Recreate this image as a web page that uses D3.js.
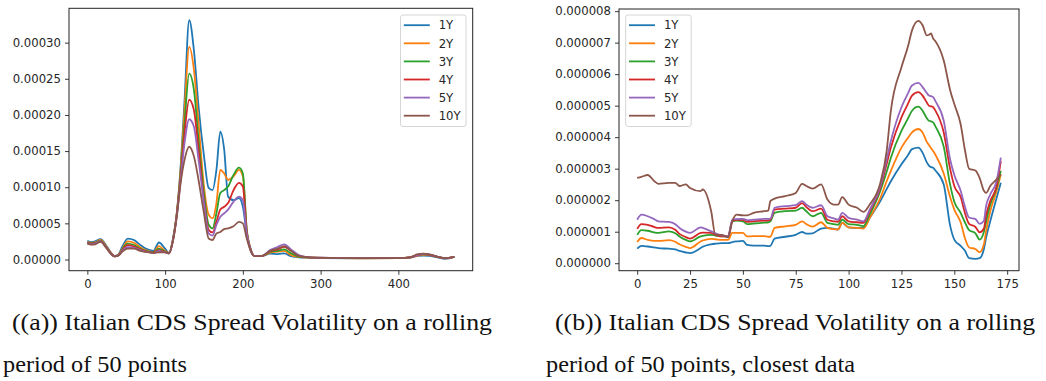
<!DOCTYPE html>
<html lang="en">
<head>
    <meta charset="UTF-8">
    <title>Italian CDS Spread Volatility</title>
    <style>
        body{
            margin:0;
            background:#fff;
        }
        .tick text{
            font-family:"DejaVu Sans", sans-serif;
            font-size:11.7px;
            fill:#262626;
        }
        .legend text{
            font-family:"DejaVu Sans", sans-serif;
            font-size:11.7px;
            fill:#262626;
        }
        .caption{
            font-family:"Liberation Serif", serif;
            font-size:23px;
            fill:#111;
        }
    </style>
    <script src="https://d3js.org/d3.v7.min.js"></script>
</head>
<body>
    <div class="canvas"></div>
    <script>
    // ---- data ----
    const seriesNames = ['1Y','2Y','3Y','4Y','5Y','10Y'];
    const colors = ['#1f77b4','#ff7f0e','#2ca02c','#d62728','#9467bd','#8c564b'];

    // (a) full history, values in units of 1e-5
    const xA = [0,5,10,17,25,30,35,40,45,52,60,68,75,85,92,100,105,110,115,120,125,131,137,143,150,156,161,166,171,176,181,188,195,200,205,210,215,225,235,245,253,262,272,285,300,350,400,415,425,432,440,450,460,472];
    const a1Y  = [2.6,2.4,2.5,2.8,1.8,1.0,0.5,0.7,1.8,2.9,2.7,2.0,1.5,1.2,2.35,1.5,0.9,2.8,6.4,12.9,22,33.1,29,21.2,14.3,9.9,9.6,12.4,17.7,15.2,8.7,8.2,8.5,7.3,3.6,1.3,0.46,0.5,0.8,0.75,0.85,0.46,0.3,0.25,0.2,0.15,0.18,0.25,0.5,0.55,0.5,0.3,0.1,0.37];
    const a2Y  = [2.4,2.3,2.35,2.7,1.7,0.95,0.46,0.65,1.5,2.5,2.3,1.7,1.3,1.0,1.85,1.2,0.85,2.7,6.4,12.5,20.7,29.4,26.3,18.9,10.1,6.2,5.7,7.8,12.4,11.9,11.0,11.5,12.4,11.5,4.0,1.4,0.46,0.5,0.95,1.1,1.2,0.6,0.35,0.25,0.22,0.17,0.18,0.28,0.55,0.65,0.6,0.35,0.15,0.37];
    const a3Y  = [2.35,2.25,2.3,2.6,1.65,0.9,0.45,0.6,1.4,2.2,2.0,1.5,1.2,1.0,1.5,1.1,0.85,2.7,6.3,12.0,18.9,25.7,23.5,16.6,9.2,4.8,4.3,6.4,9.2,9.6,10.1,11.7,12.7,11.9,4.2,1.5,0.46,0.5,1.05,1.2,1.4,0.85,0.4,0.28,0.23,0.18,0.18,0.28,0.6,0.7,0.65,0.37,0.18,0.37];
    const a4Y  = [2.3,2.2,2.25,2.55,1.6,0.9,0.44,0.6,1.3,2.0,1.8,1.4,1.15,0.95,1.3,1.05,0.85,2.6,6.2,11.5,17.5,22.1,20.7,15.2,8.2,4.1,3.75,5.2,6.9,7.3,7.8,9.6,10.6,10.1,3.8,1.4,0.46,0.5,1.15,1.4,1.75,1.2,0.5,0.3,0.23,0.18,0.18,0.28,0.6,0.75,0.65,0.37,0.18,0.37];
    const a5Y  = [2.25,2.1,2.2,2.5,1.55,0.85,0.43,0.55,1.2,1.7,1.6,1.3,1.1,0.9,1.2,1.0,0.85,2.6,6.0,11.0,16.1,19.4,18.4,13.8,7.8,3.6,3.3,4.8,5.9,6.4,6.9,8.0,8.7,8.2,3.5,1.3,0.46,0.5,1.3,1.75,2.1,1.4,0.6,0.3,0.25,0.18,0.18,0.3,0.65,0.75,0.7,0.4,0.2,0.37];
    const a10Y = [2.2,2.05,2.1,2.45,1.5,0.8,0.42,0.55,1.1,1.5,1.5,1.2,1.05,0.9,1.0,1.0,0.85,2.5,5.9,10.6,13.8,15.6,14.3,11.0,6.4,2.9,2.7,3.6,3.8,4.2,4.3,4.6,5.2,5.0,2.9,1.2,0.46,0.5,1.2,1.5,1.85,1.2,0.5,0.3,0.25,0.18,0.18,0.3,0.75,0.8,0.7,0.4,0.2,0.37];

    // (b) closest data, values in units of 1e-6
    const xB = [0,2,5,8,10,15,18,20,23,25,30,31,35,37,40,43,45,47,50,52,55,60,62,63,65,70,75,78,80,83,87,90,93,95,97,100,104,107,110,115,118,120,125,128,130,133,135,137,138,139,140,141,145,148,150,153,155,157,160,162,164,165,167,170,172];
    const b1Y  = [0.46,0.55,0.53,0.50,0.48,0.46,0.44,0.39,0.34,0.32,0.48,0.52,0.60,0.62,0.64,0.64,0.67,0.69,0.71,0.58,0.56,0.56,0.54,0.55,0.78,0.84,0.90,0.99,0.94,0.95,1.10,1.12,1.09,1.07,1.28,1.14,1.12,1.12,1.44,1.97,2.35,2.60,3.14,3.42,3.62,3.67,3.51,3.20,3.10,3.05,3.03,2.95,2.50,1.20,0.75,0.55,0.40,0.16,0.14,0.16,0.45,0.80,1.33,2.07,2.55];
    const b2Y  = [0.67,0.80,0.74,0.71,0.71,0.73,0.68,0.60,0.52,0.48,0.69,0.72,0.77,0.76,0.74,0.74,0.96,0.96,0.96,0.85,0.86,0.86,0.84,0.84,1.12,1.17,1.22,1.33,1.24,1.16,1.30,1.12,1.08,1.07,1.28,1.14,1.12,1.10,1.44,2.07,2.60,2.93,3.67,3.97,4.15,4.26,4.15,3.85,3.75,3.65,3.56,3.45,2.85,2.10,1.70,1.30,0.80,0.50,0.45,0.35,0.60,1.00,1.65,2.29,2.82];
    const b3Y  = [0.90,1.05,1.03,0.98,0.96,1.01,0.95,0.85,0.74,0.69,0.85,0.87,0.90,0.88,0.85,0.85,1.33,1.35,1.33,1.24,1.26,1.29,1.30,1.33,1.60,1.65,1.67,1.76,1.65,1.49,1.60,1.28,1.24,1.22,1.38,1.24,1.22,1.18,1.54,2.29,2.90,3.35,4.20,4.58,4.84,4.97,4.84,4.60,4.52,4.50,4.47,4.35,3.70,2.50,1.95,1.60,1.30,1.05,0.95,0.75,1.00,1.30,1.86,2.39,2.93];
    const b4Y  = [1.09,1.24,1.22,1.15,1.12,1.14,1.06,0.93,0.83,0.78,0.96,0.97,0.96,0.90,0.85,0.85,1.33,1.38,1.38,1.31,1.33,1.35,1.36,1.38,1.70,1.73,1.76,1.91,1.78,1.65,1.73,1.38,1.33,1.31,1.49,1.33,1.30,1.28,1.65,2.39,3.15,3.67,4.63,5.05,5.32,5.43,5.32,5.10,5.00,4.98,4.95,4.85,4.15,3.00,2.45,2.10,1.60,1.25,1.15,0.98,1.10,1.50,1.97,2.45,3.24];
    const b5Y  = [1.38,1.54,1.49,1.40,1.33,1.31,1.24,1.12,1.00,0.96,1.14,1.12,1.01,0.95,0.88,0.85,1.38,1.40,1.41,1.37,1.38,1.41,1.41,1.41,1.76,1.81,1.84,1.97,1.86,1.76,1.84,1.49,1.42,1.38,1.60,1.44,1.38,1.33,1.70,2.45,3.30,3.88,4.95,5.38,5.64,5.72,5.59,5.40,5.32,5.30,5.27,5.15,4.52,3.30,2.80,2.30,1.80,1.45,1.40,1.25,1.35,1.80,2.18,2.61,3.35];
    const b10Y = [2.71,2.74,2.80,2.61,2.52,2.55,2.55,2.45,2.50,2.39,2.29,2.34,1.65,0.90,0.90,0.82,1.33,1.54,1.52,1.52,1.60,1.65,1.67,1.97,2.05,2.13,2.23,2.52,2.45,2.37,2.50,2.02,1.86,1.86,2.10,1.86,1.76,1.63,1.86,2.55,3.56,4.84,6.22,6.86,7.39,7.69,7.55,7.23,7.25,7.29,7.13,7.05,6.43,5.50,5.05,4.41,3.60,3.00,2.94,2.70,2.30,2.23,2.45,2.66,2.82];

    const xTicksA = [0,100,200,300,400];
    const yTicksA = [0,0.00005,0.0001,0.00015,0.0002,0.00025,0.0003];
    const xTicksB = [0,25,50,75,100,125,150,175];
    const yTicksB = [0,0.000001,0.000002,0.000003,0.000004,0.000005,0.000006,0.000007,0.000008];

    const captionA = ['((a)) Italian CDS Spread Volatility on a rolling','period of 50 points'];
    const captionB = ['((b)) Italian CDS Spread Volatility on a rolling','period of 50 points, closest data'];

    // ---- drawing ----
    const svg = d3.select('.canvas')
                    .append('svg')
                    .attr('width',1046)
                    .attr('height',381);

    function makeSeries(xs, arrays, unit){
        return arrays.map((arr,i) => ({
            name: seriesNames[i],
            color: colors[i],
            values: xs.map((x,j) => ({x:x, y:arr[j]*unit}))
        }));
    }

    function padded(ext){
        const m = (ext[1]-ext[0])*0.05;
        return [ext[0]-m, ext[1]+m];
    }

    function drawPanel(opt){
        const {box, series, xTicks, yTicks, yFormat, legendX} = opt;
        const all = series.flatMap(s => s.values);
        const x = d3.scaleLinear()
                    .domain(padded(d3.extent(all, d => d.x)))
                    .range([box.x0, box.x1]);
        const y = d3.scaleLinear()
                    .domain(padded(d3.extent(all, d => d.y)))
                    .range([box.y1, box.y0]);

        const g = svg.append('g');

        const line = d3.line()
                        .x(d => x(d.x))
                        .y(d => y(d.y))
                        .curve(d3.curveMonotoneX);

        g.append('defs').append('clipPath')
            .attr('id','clip'+opt.id)
            .append('rect')
            .attr('x',box.x0).attr('y',box.y0)
            .attr('width',box.x1-box.x0).attr('height',box.y1-box.y0);

        g.append('g')
            .attr('clip-path','url(#clip'+opt.id+')')
            .selectAll('path')
            .data(series)
            .enter()
            .append('path')
            .attr('d', d => line(d.values))
            .attr('fill','none')
            .attr('stroke', d => d.color)
            .attr('stroke-width',1.8)
            .attr('stroke-linejoin','round');

        const xAxis = g.append('g')
            .attr('transform',`translate(0,${box.y1})`)
            .call(d3.axisBottom(x).tickValues(xTicks).tickFormat(d3.format('d')).tickSize(4).tickPadding(5));
        const yAxis = g.append('g')
            .attr('transform',`translate(${box.x0},0)`)
            .call(d3.axisLeft(y).tickValues(yTicks).tickFormat(d3.format(yFormat)).tickSize(4).tickPadding(4));
        [xAxis, yAxis].forEach(a => {
            a.select('.domain').remove();
            a.selectAll('.tick line').attr('stroke','#222').attr('stroke-width',0.9);
        });

        g.append('rect')
            .attr('x',box.x0).attr('y',box.y0)
            .attr('width',box.x1-box.x0).attr('height',box.y1-box.y0)
            .attr('fill','none')
            .attr('stroke','#222')
            .attr('stroke-width',1);

        // legend
        const lg = g.append('g').attr('class','legend');
        lg.append('rect')
            .attr('x',legendX).attr('y',15)
            .attr('width',65.5).attr('height',111.5)
            .attr('rx',2.5)
            .attr('fill','#fff')
            .attr('fill-opacity',0.8)
            .attr('stroke','#d6d6d6')
            .attr('stroke-width',1);
        const item = lg.selectAll('g.item')
            .data(series)
            .enter()
            .append('g')
            .attr('class','item')
            .attr('transform',(d,i) => `translate(${legendX},${25.2+i*18.1})`);
        item.append('line')
            .attr('x1',3.3).attr('x2',29.3)
            .attr('stroke',d => d.color)
            .attr('stroke-width',1.8);
        item.append('text')
            .attr('x',38.2)
            .attr('dy','0.36em')
            .text(d => d.name);
    }

    drawPanel({
        id:'a',
        box:{x0:69, x1:472.7, y0:8.3, y1:270.7},
        series: makeSeries(xA,[a1Y,a2Y,a3Y,a4Y,a5Y,a10Y],1e-5),
        xTicks: xTicksA, yTicks: yTicksA, yFormat:'.5f',
        legendX: 400.5
    });
    drawPanel({
        id:'b',
        box:{x0:619, x1:1019, y0:9, y1:270.7},
        series: makeSeries(xB,[b1Y,b2Y,b3Y,b4Y,b5Y,b10Y],1e-6),
        xTicks: xTicksB, yTicks: yTicksB, yFormat:'.6f',
        legendX: 625.7
    });

    // captions
    function caption(lines, x1, x2, w1, w2){
        svg.append('text').attr('class','caption')
            .attr('x',x1).attr('y',330)
            .attr('textLength',w1).attr('lengthAdjust','spacingAndGlyphs')
            .text(lines[0]);
        svg.append('text').attr('class','caption')
            .attr('x',x2).attr('y',372)
            .attr('textLength',w2).attr('lengthAdjust','spacingAndGlyphs')
            .text(lines[1]);
    }
    caption(captionA, 12, 3, 480, 184);
    caption(captionB, 555, 546, 480, 309);
    </script>
</body>
</html>
